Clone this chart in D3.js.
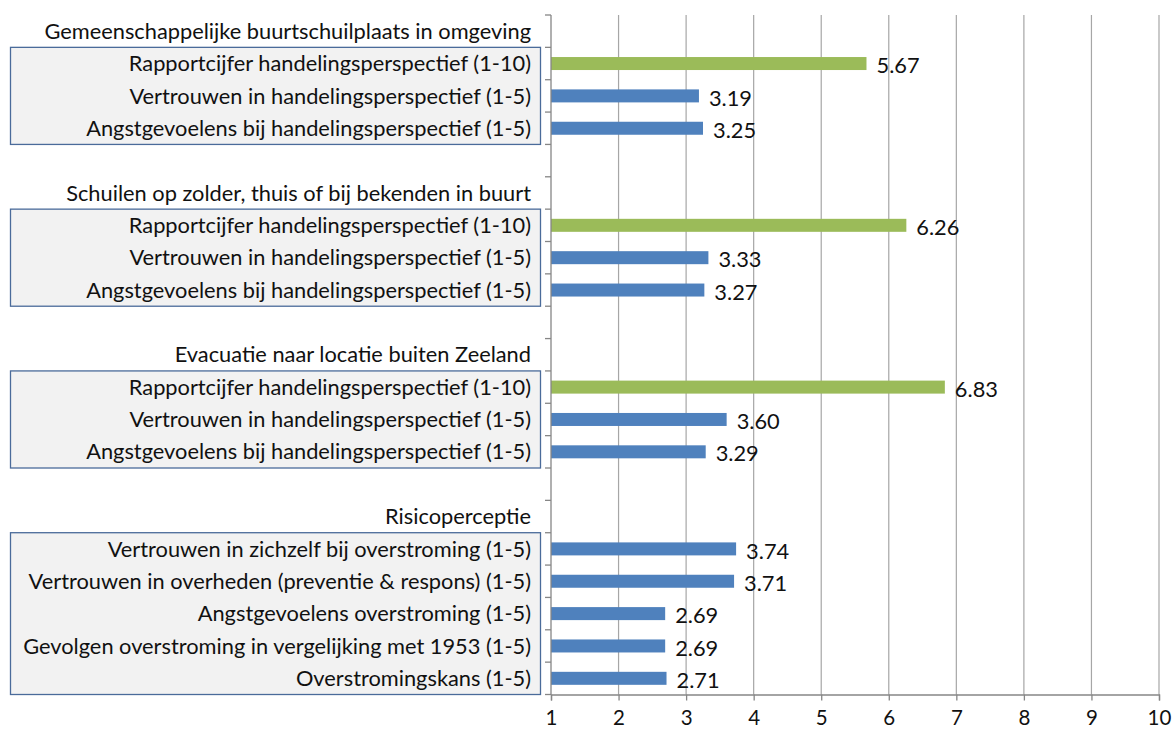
<!DOCTYPE html>
<html><head><meta charset="utf-8">
<script src="https://cdn.jsdelivr.net/npm/d3@7"></script>
<style>body{margin:0;background:#fff;} svg{display:block;font-family:Lato, "Open Sans", sans-serif;}</style>
</head><body><svg id="c" width="1175" height="733"></svg>
<script>
const groups = [
  "Gemeenschappelijke buurtschuilplaats in omgeving",
  "Schuilen op zolder, thuis of bij bekenden in buurt",
  "Evacuatie naar locatie buiten Zeeland",
  "Risicoperceptie"
];
const items = [
  ["Rapportcijfer handelingsperspectief (1-10)", "Vertrouwen in handelingsperspectief (1-5)", "Angstgevoelens bij handelingsperspectief (1-5)"],
  ["Rapportcijfer handelingsperspectief (1-10)", "Vertrouwen in handelingsperspectief (1-5)", "Angstgevoelens bij handelingsperspectief (1-5)"],
  ["Rapportcijfer handelingsperspectief (1-10)", "Vertrouwen in handelingsperspectief (1-5)", "Angstgevoelens bij handelingsperspectief (1-5)"],
  ["Vertrouwen in zichzelf bij overstroming (1-5)", "Vertrouwen in overheden (preventie & respons) (1-5)", "Angstgevoelens overstroming (1-5)", "Gevolgen overstroming in vergelijking met 1953 (1-5)", "Overstromingskans (1-5)"]
];
const values = [
  [5.67, 3.19, 3.25],
  [6.26, 3.33, 3.27],
  [6.83, 3.60, 3.29],
  [3.74, 3.71, 2.69, 2.69, 2.71]
];
const xTicks = [1, 2, 3, 4, 5, 6, 7, 8, 9, 10];

(function () {
// build rows
const rows = [];
groups.forEach((g, gi) => {
  rows.push({type: "header", label: g, group: gi});
  items[gi].forEach((it, ii) => {
    rows.push({type: "item", label: it, group: gi, value: values[gi][ii], green: it.startsWith("Rapportcijfer")});
  });
  if (gi < groups.length - 1) rows.push({type: "blank", label: "", group: gi});
});
rows.forEach((r, i) => r.id = i);

const svg = d3.select("#c");
const pL = 551, pR = 1159, pT = 15, pB = 694.5;
const fs = 21.8;
const x = d3.scaleLinear().domain([1, 10]).range([pL, pR]);
const y = d3.scaleBand().domain(rows.map(r => r.id)).range([pT, pB]);
const bw = y.bandwidth();
const axisColor = "#868686";

// gridlines
svg.append("g").selectAll("line").data(xTicks.slice(1)).join("line")
  .attr("x1", d => x(d)).attr("x2", d => x(d)).attr("y1", pT).attr("y2", pB)
  .attr("stroke", "#a6a6a6").attr("stroke-width", 1.2);

// label boxes
groups.forEach((g, gi) => {
  const its = rows.filter(r => r.type === "item" && r.group === gi);
  const y0 = y(its[0].id), y1 = y(its[its.length - 1].id) + bw;
  svg.append("rect").attr("x", 10.5).attr("y", y0).attr("width", 530).attr("height", y1 - y0)
    .attr("fill", "#f2f2f2").attr("stroke", "#4a6b9a").attr("stroke-width", 1.3);
});

// category labels
svg.append("g").selectAll("text").data(rows.filter(r => r.type !== "blank")).join("text")
  .attr("x", 531).attr("y", r => y(r.id) + bw / 2).attr("dy", "0.35em")
  .attr("text-anchor", "end").attr("font-size", fs).attr("fill", "#111")
  .text(r => r.label);

// bars
const bh = 13;
const itemRows = rows.filter(r => r.type === "item");
svg.append("g").selectAll("rect").data(itemRows).join("rect")
  .attr("x", x(1)).attr("y", r => y(r.id) + bw / 2 - bh / 2)
  .attr("width", r => x(r.value) - x(1)).attr("height", bh)
  .attr("fill", r => r.green ? "#9bbb59" : "#4f81bd");

// value labels
svg.append("g").selectAll("text").data(itemRows).join("text")
  .attr("x", r => x(r.value) + 10).attr("y", r => y(r.id) + bw / 2 + 2).attr("dy", "0.35em")
  .attr("font-size", fs).attr("fill", "#111")
  .text(r => r.value.toFixed(2));

// left axis
svg.append("line").attr("x1", pL).attr("x2", pL).attr("y1", pT).attr("y2", pB)
  .attr("stroke", axisColor).attr("stroke-width", 1.3);
const bounds = rows.map(r => y(r.id)).concat([pB]);
svg.append("g").selectAll("line").data(bounds).join("line")
  .attr("x1", pL - 6).attr("x2", pL).attr("y1", d => d).attr("y2", d => d)
  .attr("stroke", axisColor).attr("stroke-width", 1.3);

// bottom axis
const xAxis = d3.axisBottom(x).tickValues(xTicks).tickSize(6).tickPadding(10).tickFormat(d3.format("d"));
const ga = svg.append("g").attr("transform", `translate(0,${pB})`).call(xAxis);
ga.select(".domain").attr("stroke", axisColor).attr("stroke-width", 1.3);
ga.selectAll(".tick line").attr("stroke", axisColor).attr("stroke-width", 1.3);
ga.selectAll(".tick text").attr("font-size", 20.5).attr("fill", "#111").attr("font-family", "Lato, sans-serif");
})();
</script></body></html>
